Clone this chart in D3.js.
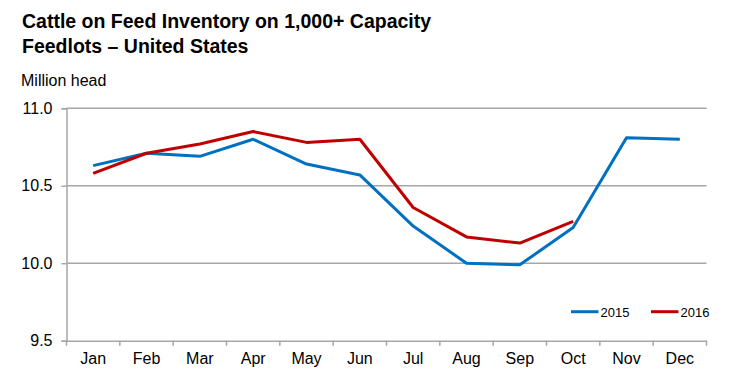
<!DOCTYPE html>
<html>
<head>
<meta charset="utf-8">
<script src="https://cdn.jsdelivr.net/npm/d3@7"></script>
<style>
  body { margin: 0; background: #fff; }
  text { font-family: "Liberation Sans", Arial, sans-serif; }
</style>
</head>
<body>
<svg id="chart" width="747" height="389"></svg>
<script>
const months = ["Jan", "Feb", "Mar", "Apr", "May", "Jun", "Jul", "Aug", "Sep", "Oct", "Nov", "Dec"];
const values2015 = [10.63, 10.71, 10.69, 10.80, 10.64, 10.57, 10.24, 10.00, 9.99, 10.23, 10.81, 10.80];
const values2016 = [10.58, 10.71, 10.77, 10.85, 10.78, 10.80, 10.36, 10.17, 10.13, 10.27];
const yTicks = [9.5, 10.0, 10.5, 11.0];

const series = [
  { name: "2015", color: "#0070C0", values: values2015 },
  { name: "2016", color: "#C00000", values: values2016 },
];

const svg = d3.select("#chart");
const plotLeft = 66.5, plotRight = 706.5, plotTop = 108.3, plotBottom = 340.7;

const x = d3.scaleBand().domain(months).range([plotLeft, plotRight]);
const y = d3.scaleLinear().domain([9.5, 11.0]).range([plotBottom, plotTop]);

// title
svg.append("text")
  .attr("x", 22).attr("y", 27.5)
  .style("font-size", "19.5px").style("font-weight", "bold")
  .text("Cattle on Feed Inventory on 1,000+ Capacity");
svg.append("text")
  .attr("x", 22).attr("y", 53)
  .style("font-size", "19.5px").style("font-weight", "bold")
  .text("Feedlots \u2013 United States");

svg.append("text")
  .attr("x", 21).attr("y", 85.5)
  .style("font-size", "16px")
  .text("Million head");

// grid
svg.selectAll(".grid")
  .data(yTicks.filter((d) => d !== 9.5))
  .enter()
  .append("line")
  .attr("class", "grid")
  .attr("x1", plotLeft).attr("x2", plotRight)
  .attr("y1", (d) => y(d)).attr("y2", (d) => y(d))
  .attr("stroke", "#a6a6a6")
  .attr("stroke-width", 1.5);

// y axis
const yAxis = svg.append("g")
  .attr("transform", `translate(${plotLeft},0)`)
  .call(d3.axisLeft(y).tickValues(yTicks).tickFormat(d3.format(".1f")).tickSize(5).tickPadding(9));
yAxis.select(".domain").attr("stroke", "#a6a6a6").attr("stroke-width", 1.5);
yAxis.selectAll(".tick line").attr("stroke", "#a6a6a6").attr("stroke-width", 1.5);
yAxis.selectAll(".tick text").style("font-size", "16px").attr("fill", "#000")
  .style("font-family", "'Liberation Sans', Arial, sans-serif");

// x axis
const xAxis = svg.append("g")
  .attr("transform", `translate(0,${plotBottom})`)
  .call(d3.axisBottom(x).tickSize(0).tickPadding(12));
xAxis.select(".domain").attr("stroke", "#a6a6a6").attr("stroke-width", 1.5);
xAxis.selectAll(".tick text").style("font-size", "16px").attr("fill", "#000")
  .style("font-family", "'Liberation Sans', Arial, sans-serif");

svg.selectAll(".xtick")
  .data(d3.range(months.length + 1))
  .enter()
  .append("line")
  .attr("class", "xtick")
  .attr("x1", (i) => plotLeft + i * x.step())
  .attr("x2", (i) => plotLeft + i * x.step())
  .attr("y1", plotBottom).attr("y2", plotBottom + 5)
  .attr("stroke", "#a6a6a6")
  .attr("stroke-width", 1.5);

// lines
const line = d3.line()
  .x((d, i) => x(months[i]) + x.bandwidth() / 2)
  .y((d) => y(d));

svg.selectAll(".series")
  .data(series)
  .enter()
  .append("path")
  .attr("class", "series")
  .attr("fill", "none")
  .attr("stroke", (d) => d.color)
  .attr("stroke-width", 3)
  .attr("stroke-linejoin", "round")
  .attr("d", (d) => line(d.values));

// legend
const legend = svg.selectAll(".legend")
  .data(series)
  .enter()
  .append("g")
  .attr("class", "legend")
  .attr("transform", (d, i) => `translate(${571 + i * 80},311.7)`);

legend.append("line")
  .attr("x1", 0).attr("x2", 27.5)
  .attr("y1", 0).attr("y2", 0)
  .attr("stroke", (d) => d.color)
  .attr("stroke-width", 3);

legend.append("text")
  .attr("x", 29.5).attr("y", 5)
  .style("font-size", "13px")
  .text((d) => d.name);
</script>
</body>
</html>
